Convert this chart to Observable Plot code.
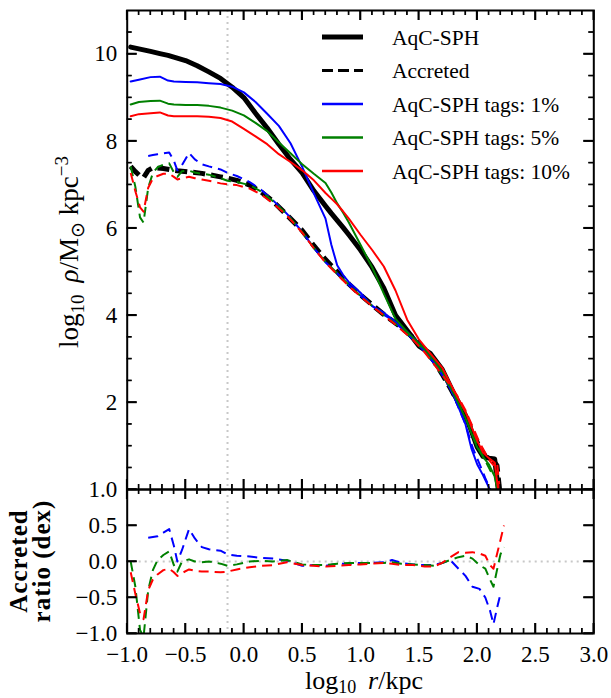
<!DOCTYPE html>
<html><head><meta charset="utf-8">
<script src="https://cdn.jsdelivr.net/npm/d3@7"></script>
<script src="https://cdn.jsdelivr.net/npm/@observablehq/plot@0.6"></script>
<style>
body{margin:0;background:#fff;}
#chart{width:611px;}
#chart svg{display:block;}
</style></head><body><div id="chart"></div>
<script>
// ---------- data ----------
// solid profiles: common radius grid (log10 r/kpc)
const xSolid = [-0.97,-0.9,-0.8,-0.72,-0.65,-0.6,-0.5,-0.4,-0.3,-0.2,-0.1,0.0,0.1,0.2,0.3,0.4,0.5,0.6,0.7,0.75,0.8,0.85,0.9,1.0,1.1,1.2,1.3,1.4,1.5,1.6,1.7,1.8,1.9,1.95,2.0,2.05,2.1,2.15,2.19];
const sphAll  = [10.16,10.12,10.06,10.01,9.97,9.93,9.85,9.73,9.59,9.44,9.24,9.00,8.64,8.30,7.93,7.58,7.27,6.86,6.51,6.34,6.18,6.02,5.85,5.50,5.10,4.62,4.00,3.65,3.30,3.12,2.76,2.20,1.70,1.35,0.98,0.76,0.72,0.70,-0.2];
const tag1All = [9.37,9.41,9.47,9.48,9.39,9.37,9.36,9.35,9.33,9.31,9.25,9.12,8.90,8.63,8.35,7.95,7.41,6.80,6.22,5.62,5.15,4.93,4.76,4.52,4.21,4.06,3.85,3.62,3.36,3.06,2.66,2.15,1.50,0.95,0.58,0.33,0.05,-0.3,null];
const tag5All = [8.84,8.90,8.92,8.93,8.86,8.84,8.83,8.83,8.81,8.77,8.70,8.59,8.42,8.23,7.97,7.72,7.47,7.25,7.04,6.82,6.57,6.36,6.13,5.62,5.10,4.50,3.92,3.62,3.36,3.08,2.72,2.20,1.64,1.30,0.97,0.75,0.58,0.30,-0.2];
const tag10All= [8.57,8.62,8.64,8.66,8.59,8.57,8.57,8.57,8.56,8.53,8.45,8.28,8.11,7.93,7.70,7.52,7.33,7.10,6.81,6.68,6.55,6.39,6.22,5.85,5.50,5.12,4.57,3.90,3.45,3.12,2.80,2.28,1.78,1.45,1.12,0.85,0.72,0.62,-0.2];

// accreted profiles and ratios: common grid
const xAcc = [-0.97,-0.93,-0.89,-0.86,-0.82,-0.78,-0.74,-0.69,-0.64,-0.6,-0.57,-0.53,-0.47,-0.42,-0.36,-0.3,-0.2,-0.14,-0.06,0.05,0.15,0.25,0.37,0.5,0.6,0.7,0.8,0.9,1.0,1.1,1.2,1.27,1.35,1.45,1.55,1.63,1.7,1.77,1.84,1.9,1.96,2.02,2.07,2.11,2.14,2.17,2.2,2.23];
const accSph  = [7.42,7.30,7.20,7.16,7.33,7.39,7.38,7.37,7.35,7.33,7.32,7.31,7.29,7.28,7.26,7.23,7.18,7.15,7.10,6.99,6.83,6.62,6.30,5.95,5.60,5.28,5.00,4.72,4.47,4.24,4.02,3.88,3.72,3.49,3.22,2.95,2.65,2.33,1.98,1.70,1.32,0.97,0.76,0.70,0.66,0.55,-0.2,null];
const accTag1 = [null,null,null,null,7.66,7.68,7.70,7.72,7.74,7.55,7.33,7.45,7.73,7.58,7.47,7.42,7.35,7.27,7.20,7.06,6.88,6.64,6.33,5.92,5.55,5.22,4.97,4.69,4.45,4.22,4.01,3.90,3.70,3.45,3.17,2.90,2.63,2.35,1.88,1.50,0.97,0.59,0.26,0.02,-0.2,null,null,null];
const accTag5 = [7.42,6.95,6.25,6.13,6.93,7.27,7.40,7.46,7.49,7.28,7.18,7.31,7.32,7.28,7.25,7.23,7.15,7.09,7.06,6.99,6.84,6.62,6.32,5.91,5.55,5.23,4.97,4.70,4.45,4.22,4.00,3.87,3.69,3.45,3.17,2.89,2.63,2.35,2.04,1.78,1.36,0.92,0.66,0.45,0.31,0.43,-0.1,null];
const accTag10= [7.27,6.85,6.48,6.38,6.93,7.14,7.20,7.25,7.25,7.18,7.12,7.15,7.18,7.15,7.12,7.09,7.03,7.01,6.99,6.91,6.77,6.57,6.29,5.90,5.54,5.21,4.94,4.67,4.43,4.21,4.00,3.85,3.67,3.44,3.15,2.88,2.63,2.39,2.11,1.82,1.45,1.08,0.84,0.65,0.56,0.65,-0.2,null];

const ratio1  = [null,null,null,null,0.33,0.34,0.35,0.40,0.45,0.22,0.0,0.16,0.45,0.32,0.20,0.17,0.15,0.10,0.08,0.07,0.05,0.04,0.01,-0.06,-0.05,-0.06,-0.03,-0.03,-0.02,-0.02,-0.01,0.02,-0.02,-0.04,-0.05,-0.05,-0.02,0.02,-0.10,-0.20,-0.35,-0.38,-0.50,-0.68,-0.87,-0.65,-0.45,null];
const ratio5  = [0.0,-0.35,-0.95,-1.05,-0.40,-0.12,0.02,0.09,0.14,-0.05,-0.14,0.0,0.03,0.0,-0.01,0.0,-0.03,-0.06,-0.04,0.0,0.01,0.0,0.02,-0.04,-0.05,-0.05,-0.03,-0.02,-0.02,-0.02,-0.02,-0.01,-0.03,-0.04,-0.05,-0.06,-0.02,0.02,0.06,0.08,0.04,-0.05,-0.10,-0.25,-0.35,-0.12,0.10,0.20];
const ratio10 = [-0.15,-0.45,-0.72,-0.80,-0.40,-0.25,-0.18,-0.12,-0.10,-0.15,-0.20,-0.16,-0.11,-0.13,-0.14,-0.14,-0.15,-0.14,-0.11,-0.08,-0.06,-0.05,-0.01,-0.05,-0.06,-0.07,-0.06,-0.05,-0.04,-0.03,-0.02,-0.03,-0.05,-0.05,-0.07,-0.07,-0.02,0.06,0.13,0.12,0.13,0.11,0.08,-0.05,-0.10,0.10,0.30,0.50];

const vLine = [-0.14];
const xMajor = [-1.0,-0.5,0.0,0.5,1.0,1.5,2.0,2.5,3.0];
const xMinor = [-0.9,-0.8,-0.7,-0.6,-0.4,-0.3,-0.2,-0.1,0.1,0.2,0.3,0.4,0.6,0.7,0.8,0.9,1.1,1.2,1.3,1.4,1.6,1.7,1.8,1.9,2.1,2.2,2.3,2.4,2.6,2.7,2.8,2.9];
const yTopMajor = [2,4,6,8,10];
const yTopMinor = [0.5,1,1.5,2.5,3,3.5,4.5,5,5.5,6.5,7,7.5,8.5,9,9.5,10.5];
const yBotMajor = [-1.0,-0.5,0.0,0.5,1.0];

const legendLabels = ["AqC-SPH","Accreted","AqC-SPH tags: 1%","AqC-SPH tags: 5%","AqC-SPH tags: 10%"];
const colors = {sph:"#000000", t1:"#0000ff", t5:"#008000", t10:"#ff0000"};

// ---------- helpers ----------
const FONT = "'Liberation Serif', 'Times New Roman', serif";
const fmtX = d => d.toFixed(1).replace("-", "\u2212");
const W = 611, ML = 126.7, MR = 17.7;
const PW = W - ML - MR;
const XD = [-1, 3];
const MAJ = 10, MIN = 5;

// inward tick marks (Plot rules, lengths converted from pixels to data units)
function tickMarks(PH, yDom, yMajor, yMinor) {
  const ux = (XD[1] - XD[0]) / PW, uy = (yDom[1] - yDom[0]) / PH;
  const xt = (vals, len, w) => [
    Plot.ruleX(vals, {x: d => d, y1: yDom[0], y2: yDom[0] + len * uy, stroke: "#000", strokeWidth: w}),
    Plot.ruleX(vals, {x: d => d, y1: yDom[1] - len * uy, y2: yDom[1], stroke: "#000", strokeWidth: w})
  ];
  const yt = (vals, len, w) => [
    Plot.ruleY(vals, {y: d => d, x1: XD[0], x2: XD[0] + len * ux, stroke: "#000", strokeWidth: w}),
    Plot.ruleY(vals, {y: d => d, x1: XD[1] - len * ux, x2: XD[1], stroke: "#000", strokeWidth: w})
  ];
  return [...xt(xMinor, MIN, 1.2), ...xt(xMajor, MAJ, 1.6), ...yt(yMajor, MAJ, 1.6), ...(yMinor ? yt(yMinor, MIN, 1.2) : [])];
}

function frameAxes(yMajor, yFmt, showXLabels) {
  const marks = [
    Plot.frame({stroke: "black", strokeWidth: 2}),
    Plot.axisY(yMajor, {anchor: "left", tickSize: 0, tickPadding: 10, tickFormat: yFmt, label: null, fontSize: 23})
  ];
  if (showXLabels) marks.push(Plot.axisX(xMajor, {anchor: "bottom", tickSize: 0, tickPadding: 12, tickFormat: fmtX, label: null, fontSize: 23}));
  return marks;
}

// same ticks again as plain SVG lines placed with the plot's own scales
function drawTicks(plot, yMajor, yMinor) {
  const sx = plot.scale("x"), sy = plot.scale("y");
  const [xL, xR] = sx.range;
  const [yB, yT] = sy.range;
  const g = d3.select(plot).append("g").attr("stroke", "#000").attr("fill", "none");
  const xt = (vals, len, w) => vals.forEach(v => {
    const px = sx.apply(v);
    g.append("line").attr("x1", px).attr("x2", px).attr("y1", yB).attr("y2", yB - len).attr("stroke-width", w);
    g.append("line").attr("x1", px).attr("x2", px).attr("y1", yT).attr("y2", yT + len).attr("stroke-width", w);
  });
  const yt = (vals, len, w) => vals.forEach(v => {
    const py = sy.apply(v);
    g.append("line").attr("y1", py).attr("y2", py).attr("x1", xL).attr("x2", xL + len).attr("stroke-width", w);
    g.append("line").attr("y1", py).attr("y2", py).attr("x1", xR).attr("x2", xR - len).attr("stroke-width", w);
  });
  xt(xMinor, MIN, 1.2); xt(xMajor, MAJ, 1.6); yt(yMajor, MAJ, 1.6);
  if (yMinor) yt(yMinor, MIN, 1.2);
}

const styleObj = {fontFamily: FONT, fontSize: "23px", color: "black", background: "white", overflow: "visible"};

// ---------- top panel ----------
const TOP_H = 489, TOP_MT = 10, TOP_Y = [0, 11];
const topPlot = Plot.plot({
  width: W, height: TOP_H,
  marginTop: TOP_MT, marginBottom: 0, marginLeft: ML, marginRight: MR,
  x: {domain: XD, axis: null},
  y: {domain: TOP_Y},
  style: styleObj,
  marks: [
    Plot.ruleX(vLine, {stroke: "#c8c8c8", strokeWidth: 2, strokeDasharray: "2,4"}),
    Plot.line(xSolid, {x: xSolid, y: sphAll, stroke: colors.sph, strokeWidth: 5, clip: true}),
    Plot.line(xAcc, {x: xAcc, y: accSph, stroke: colors.sph, strokeWidth: 5, strokeDasharray: "12,6", strokeLinecap: "butt", clip: true}),
    Plot.line(xSolid, {x: xSolid, y: tag1All, stroke: colors.t1, strokeWidth: 2, clip: true}),
    Plot.line(xAcc, {x: xAcc, y: accTag1, stroke: colors.t1, strokeWidth: 2, strokeDasharray: "10,6", strokeLinecap: "butt", clip: true}),
    Plot.line(xSolid, {x: xSolid, y: tag5All, stroke: colors.t5, strokeWidth: 2, clip: true}),
    Plot.line(xAcc, {x: xAcc, y: accTag5, stroke: colors.t5, strokeWidth: 2, strokeDasharray: "10,6", strokeLinecap: "butt", clip: true}),
    Plot.line(xSolid, {x: xSolid, y: tag10All, stroke: colors.t10, strokeWidth: 2, clip: true}),
    Plot.line(xAcc, {x: xAcc, y: accTag10, stroke: colors.t10, strokeWidth: 2, strokeDasharray: "10,6", strokeLinecap: "butt", clip: true}),
    ...tickMarks(TOP_H - TOP_MT, TOP_Y, yTopMajor, yTopMinor),
    ...frameAxes(yTopMajor, d => String(d), false)
  ]
});

// ---------- bottom panel ----------
const BOT_H = 209, BOT_MB = 65, BOT_Y = [-1, 1];
const botPlot = Plot.plot({
  width: W, height: BOT_H,
  marginTop: 0, marginBottom: BOT_MB, marginLeft: ML, marginRight: MR,
  x: {domain: XD},
  y: {domain: BOT_Y},
  style: styleObj,
  marks: [
    Plot.ruleX(vLine, {stroke: "#c8c8c8", strokeWidth: 2, strokeDasharray: "2,4"}),
    Plot.ruleY([0], {stroke: "#c8c8c8", strokeWidth: 2, strokeDasharray: "2,4"}),
    Plot.line(xAcc, {x: xAcc, y: ratio1, stroke: colors.t1, strokeWidth: 2, strokeDasharray: "10,6", strokeLinecap: "butt", clip: true}),
    Plot.line(xAcc, {x: xAcc, y: ratio5, stroke: colors.t5, strokeWidth: 2, strokeDasharray: "10,6", strokeLinecap: "butt", clip: true}),
    Plot.line(xAcc, {x: xAcc, y: ratio10, stroke: colors.t10, strokeWidth: 2, strokeDasharray: "10,6", strokeLinecap: "butt", clip: true}),
    ...tickMarks(BOT_H - BOT_MB, BOT_Y, yBotMajor, null),
    ...frameAxes(yBotMajor, fmtX, true)
  ]
});

const chart = document.getElementById("chart");
chart.appendChild(topPlot);
chart.appendChild(botPlot);

// ---------- legend ----------
const svgT = d3.select(topPlot);
const leg = svgT.append("g").attr("font-family", FONT).attr("font-size", 21.5).attr("text-anchor", "start");
const legStyles = [
  {stroke: colors.sph, w: 5, dash: null},
  {stroke: colors.sph, w: 3, dash: "11,5"},
  {stroke: colors.t1, w: 2.5, dash: null},
  {stroke: colors.t5, w: 2.5, dash: null},
  {stroke: colors.t10, w: 2.5, dash: null}
];
const legY = [37, 70.5, 104, 137.5, 171];
legendLabels.forEach((t, i) => {
  const s = legStyles[i];
  const ln = leg.append("line").attr("x1", 322).attr("x2", 363).attr("y1", legY[i]).attr("y2", legY[i])
    .attr("stroke", s.stroke).attr("stroke-width", s.w);
  if (s.dash) ln.attr("stroke-dasharray", s.dash);
  leg.append("text").attr("x", 392).attr("y", legY[i] + 7.5).text(t);
});

// ---------- axis labels ----------
const yl = svgT.append("text").attr("font-family", FONT).attr("font-size", 27)
  .attr("text-anchor", "middle").attr("transform", "translate(78,252) rotate(-90)");
yl.append("tspan").text("log");
yl.append("tspan").attr("dy", 6).attr("font-size", 19).text("10");
yl.append("tspan").attr("dy", -6).text("\u2009 ");
yl.append("tspan").attr("font-style", "italic").text("\u03c1");
yl.append("tspan").text("/M");
yl.append("tspan").attr("dy", 6).attr("font-size", 19).text("\u2299");
yl.append("tspan").attr("dy", -6).text(" kpc");
yl.append("tspan").attr("dy", -10).attr("font-size", 19).text("\u22123");

const svgB = d3.select(botPlot);
const xl = svgB.append("text").attr("font-family", FONT).attr("font-size", 26)
  .attr("text-anchor", "middle").attr("x", 364).attr("y", 200);
xl.append("tspan").text("log");
xl.append("tspan").attr("dy", 4).attr("font-size", 18).text("10");
xl.append("tspan").attr("dy", -4).text("\u2009 ");
xl.append("tspan").attr("font-style", "italic").text("r");
xl.append("tspan").text("/kpc");

const rl = svgB.append("g").attr("font-family", FONT).attr("font-size", 25).attr("font-weight", "bold")
  .attr("letter-spacing", 1).attr("text-anchor", "middle").attr("transform", "translate(0,72) rotate(-90)");
rl.append("text").attr("x", 0).attr("y", 27).text("Accreted");
rl.append("text").attr("x", 0).attr("y", 50).text("ratio (dex)");

// tick lines drawn last so nothing paints over them
drawTicks(topPlot, yTopMajor, yTopMinor);
drawTicks(botPlot, yBotMajor, null);
</script>
</body></html>
